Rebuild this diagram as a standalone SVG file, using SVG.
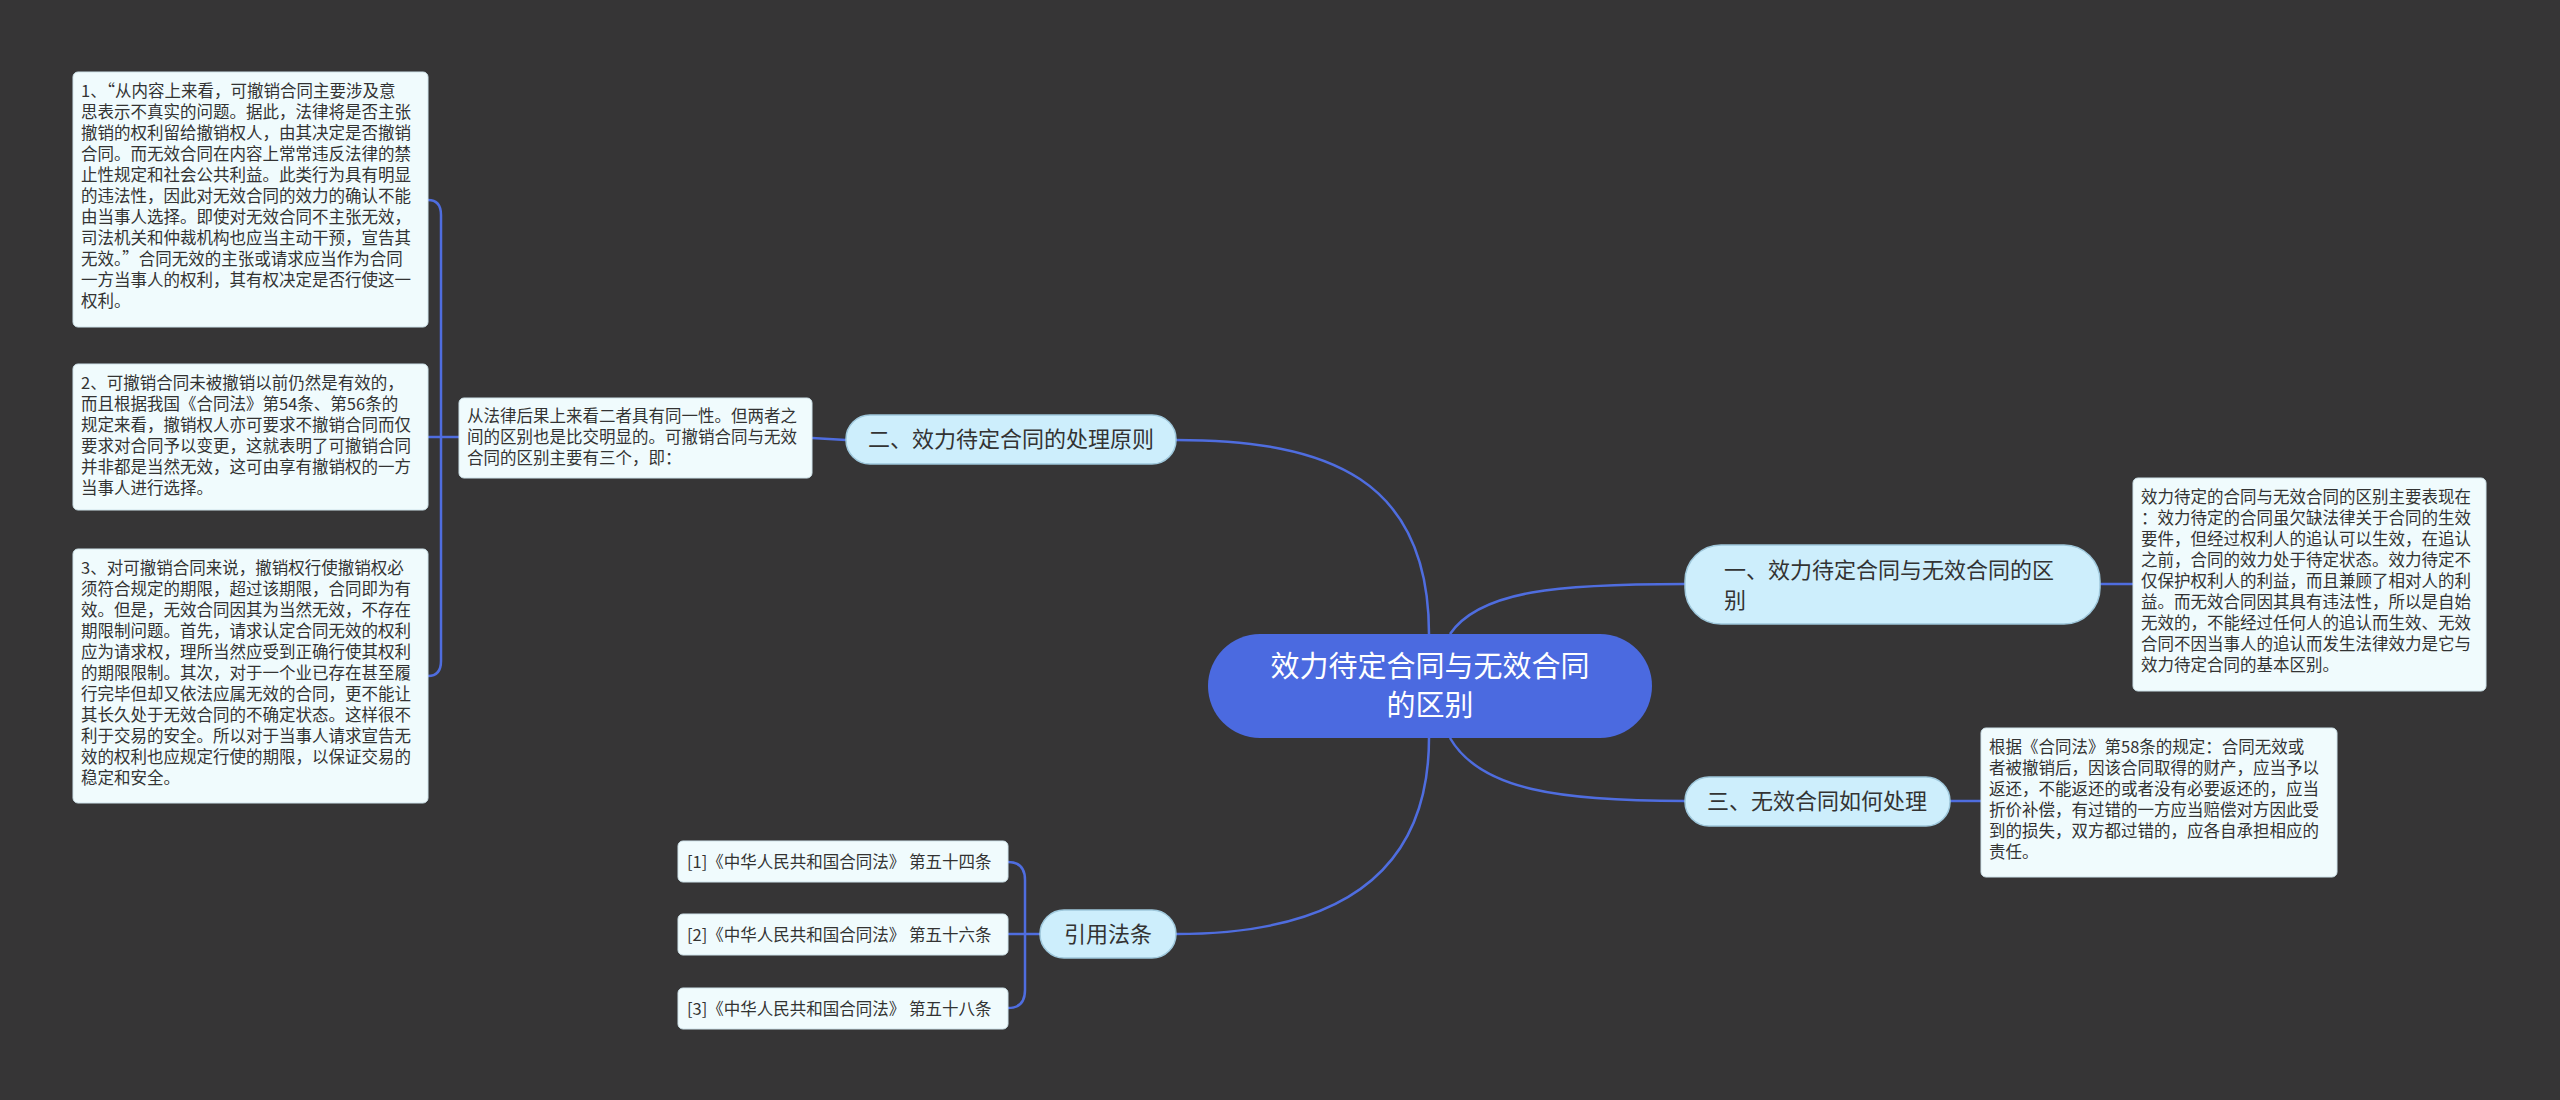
<svg xmlns="http://www.w3.org/2000/svg" width="2560" height="1100" viewBox="0 0 2560 1100">
<style>
.t{font-family:"Noto Sans CJK SC","Liberation Sans",sans-serif;fill:#333}
.s{font-size:16.5px}
.b{font-size:22px}
.leaf{fill:#f0fbfd;stroke:#cfe3ea;stroke-width:1}
.br{fill:#cdeefc;stroke:#9fc8dc;stroke-width:1.5}
.c{fill:none;stroke:#4f6ddf;stroke-width:2.5}
</style>
<rect width="2560" height="1100" fill="#363536"/>
<g id="connectors">
<path class="c" d="M1429,634 C1429,480 1330,440 1176,440"/>
<path class="c" d="M1450,634 C1480,590 1560,584 1685,584"/>
<path class="c" d="M1450,738 C1480,790 1560,801 1685,801"/>
<path class="c" d="M1429,738 C1429,880 1330,934 1176,934"/>
<path class="c" d="M2100,584 L2133,584"/>
<path class="c" d="M1950,801 L1981,801"/>
<path class="c" d="M846,440 L812,438"/>
<path class="c" d="M459,437 L441,437"/>
<path class="c" d="M428,200 Q441,200 441,215 L441,661 Q441,676 428,676"/>
<path class="c" d="M441,437 L428,437"/>
<path class="c" d="M1040,934 L1025,934"/>
<path class="c" d="M1008,862 Q1025,862 1025,880 L1025,990 Q1025,1008 1008,1008"/>
<path class="c" d="M1025,934 L1008,934"/>
</g>
<g id="root">
<rect x="1208" y="634" width="444" height="104" rx="52" fill="#4b6ae0"/>
<text class="t" style="fill:#fff;font-size:29px" text-anchor="middle"><tspan x="1430" y="677">效力待定合同与无效合同</tspan><tspan x="1430" y="716">的区别</tspan></text>
</g>
<g id="b2">
<rect class="br" x="846" y="415" width="330" height="49" rx="24"/>
<text class="t b" x="1011" y="447" text-anchor="middle">二、效力待定合同的处理原则</text>
</g>
<g id="b1">
<rect class="br" x="1685" y="545" width="415" height="79" rx="36"/>
<text class="t b"><tspan x="1724" y="578">一、效力待定合同与无效合同的区</tspan><tspan x="1724" y="608">别</tspan></text>
</g>
<g id="b3">
<rect class="br" x="1685" y="777" width="265" height="49" rx="24"/>
<text class="t b" x="1817" y="809" text-anchor="middle">三、无效合同如何处理</text>
</g>
<g id="b4">
<rect class="br" x="1040" y="910" width="136" height="48" rx="24"/>
<text class="t b" x="1108" y="942" text-anchor="middle">引用法条</text>
</g>
<g id="mid">
<rect class="leaf" x="459" y="398" width="353" height="80" rx="5"/>
<text class="t s"><tspan x="467" y="422">从法律后果上来看二者具有同一性。但两者之</tspan><tspan x="467" y="443">间的区别也是比交明显的。可撤销合同与无效</tspan><tspan x="467" y="464">合同的区别主要有三个，即：</tspan></text>
</g>
<g id="leaf1">
<rect class="leaf" x="73" y="72" width="355" height="255" rx="5"/>
<text class="t s"><tspan x="81" y="97">1、“从内容上来看，可撤销合同主要涉及意</tspan><tspan x="81" y="118">思表示不真实的问题。据此，法律将是否主张</tspan><tspan x="81" y="139">撤销的权利留给撤销权人，由其决定是否撤销</tspan><tspan x="81" y="160">合同。而无效合同在内容上常常违反法律的禁</tspan><tspan x="81" y="181">止性规定和社会公共利益。此类行为具有明显</tspan><tspan x="81" y="202">的违法性，因此对无效合同的效力的确认不能</tspan><tspan x="81" y="223">由当事人选择。即使对无效合同不主张无效，</tspan><tspan x="81" y="244">司法机关和仲裁机构也应当主动干预，宣告其</tspan><tspan x="81" y="265">无效。”合同无效的主张或请求应当作为合同</tspan><tspan x="81" y="286">一方当事人的权利，其有权决定是否行使这一</tspan><tspan x="81" y="307">权利。</tspan></text>
</g>
<g id="leaf2">
<rect class="leaf" x="73" y="364" width="355" height="146" rx="5"/>
<text class="t s"><tspan x="81" y="389">2、可撤销合同未被撤销以前仍然是有效的，</tspan><tspan x="81" y="410">而且根据我国《合同法》第54条、第56条的</tspan><tspan x="81" y="431">规定来看，撤销权人亦可要求不撤销合同而仅</tspan><tspan x="81" y="452">要求对合同予以变更，这就表明了可撤销合同</tspan><tspan x="81" y="473">并非都是当然无效，这可由享有撤销权的一方</tspan><tspan x="81" y="494">当事人进行选择。</tspan></text>
</g>
<g id="leaf3">
<rect class="leaf" x="73" y="549" width="355" height="254" rx="5"/>
<text class="t s"><tspan x="81" y="574">3、对可撤销合同来说，撤销权行使撤销权必</tspan><tspan x="81" y="595">须符合规定的期限，超过该期限，合同即为有</tspan><tspan x="81" y="616">效。但是，无效合同因其为当然无效，不存在</tspan><tspan x="81" y="637">期限制问题。首先，请求认定合同无效的权利</tspan><tspan x="81" y="658">应为请求权，理所当然应受到正确行使其权利</tspan><tspan x="81" y="679">的期限限制。其次，对于一个业已存在甚至履</tspan><tspan x="81" y="700">行完毕但却又依法应属无效的合同，更不能让</tspan><tspan x="81" y="721">其长久处于无效合同的不确定状态。这样很不</tspan><tspan x="81" y="742">利于交易的安全。所以对于当事人请求宣告无</tspan><tspan x="81" y="763">效的权利也应规定行使的期限，以保证交易的</tspan><tspan x="81" y="784">稳定和安全。</tspan></text>
</g>
<g id="leafA">
<rect class="leaf" x="2133" y="478" width="353" height="213" rx="5"/>
<text class="t s"><tspan x="2141" y="503">效力待定的合同与无效合同的区别主要表现在</tspan><tspan x="2141" y="524">：效力待定的合同虽欠缺法律关于合同的生效</tspan><tspan x="2141" y="545">要件，但经过权利人的追认可以生效，在追认</tspan><tspan x="2141" y="566">之前，合同的效力处于待定状态。效力待定不</tspan><tspan x="2141" y="587">仅保护权利人的利益，而且兼顾了相对人的利</tspan><tspan x="2141" y="608">益。而无效合同因其具有违法性，所以是自始</tspan><tspan x="2141" y="629">无效的，不能经过任何人的追认而生效、无效</tspan><tspan x="2141" y="650">合同不因当事人的追认而发生法律效力是它与</tspan><tspan x="2141" y="671">效力待定合同的基本区别。</tspan></text>
</g>
<g id="leafC">
<rect class="leaf" x="1981" y="728" width="356" height="149" rx="5"/>
<text class="t s"><tspan x="1989" y="753">根据《合同法》第58条的规定：合同无效或</tspan><tspan x="1989" y="774">者被撤销后，因该合同取得的财产，应当予以</tspan><tspan x="1989" y="795">返还，不能返还的或者没有必要返还的，应当</tspan><tspan x="1989" y="816">折价补偿，有过错的一方应当赔偿对方因此受</tspan><tspan x="1989" y="837">到的损失，双方都过错的，应各自承担相应的</tspan><tspan x="1989" y="858">责任。</tspan></text>
</g>
<g id="cite1">
<rect class="leaf" x="678" y="841" width="330" height="41" rx="5"/>
<text class="t s" x="687" y="868">[1]《中华人民共和国合同法》 第五十四条</text>
</g>
<g id="cite2">
<rect class="leaf" x="678" y="914" width="330" height="41" rx="5"/>
<text class="t s" x="687" y="941">[2]《中华人民共和国合同法》 第五十六条</text>
</g>
<g id="cite3">
<rect class="leaf" x="678" y="988" width="330" height="41" rx="5"/>
<text class="t s" x="687" y="1015">[3]《中华人民共和国合同法》 第五十八条</text>
</g>
</svg>
